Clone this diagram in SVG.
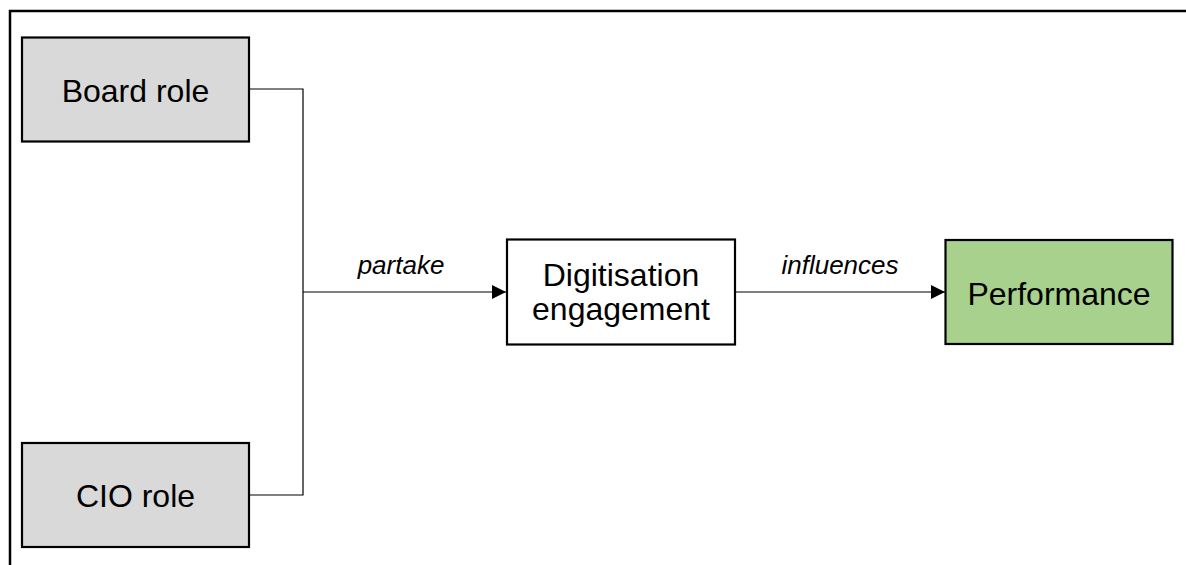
<svg xmlns="http://www.w3.org/2000/svg" width="1186" height="565" viewBox="0 0 1186 565">
  <style>
    .box { stroke: #000; stroke-width: 2.2; }
    .grey { fill: #D9D9D9; }
    .plain { fill: #FFFFFF; }
    .green { fill: #A9D18E; }
    .label { font-family: "Liberation Sans", Arial, sans-serif; font-size: 32px; fill: #000; text-anchor: middle; }
    .edge-label { font-family: "Liberation Sans", Arial, sans-serif; font-size: 26px; font-style: italic; fill: #000; text-anchor: middle; }
    .wire { fill: none; stroke: #000; stroke-width: 1.2; }
  </style>
  <defs>
    <marker id="arrow" viewBox="0 0 14 14" refX="14" refY="7" markerWidth="14" markerHeight="14" markerUnits="userSpaceOnUse" orient="auto">
      <path d="M0,0 L14,7 L0,14 Z" fill="#000"/>
    </marker>
  </defs>
  <rect width="1186" height="565" fill="#FFFFFF"/>

  <!-- outer frame -->
  <path d="M10,565 V11 H1186" fill="none" stroke="#000" stroke-width="2.5"/>

  <g id="connectors">
    <path class="wire" d="M249,89 H303 V495 H249"/>
    <path class="wire" d="M303,292 H506" marker-end="url(#arrow)"/>
    <text class="edge-label" x="401" y="274">partake</text>
    <path class="wire" d="M735,292 H945" marker-end="url(#arrow)"/>
    <text class="edge-label" x="840" y="274">influences</text>
  </g>

  <g id="board-role">
    <rect class="box grey" x="22" y="37.5" width="227" height="104"/>
    <text class="label" x="135.5" y="102">Board role</text>
  </g>

  <g id="cio-role">
    <rect class="box grey" x="22" y="443" width="227" height="104"/>
    <text class="label" x="135.5" y="507">CIO role</text>
  </g>

  <g id="digitisation-engagement">
    <rect class="box plain" x="507" y="239.5" width="228" height="105"/>
    <text class="label" x="621" y="286">Digitisation</text>
    <text class="label" x="621" y="320">engagement</text>
  </g>

  <g id="performance">
    <rect class="box green" x="945.5" y="240" width="227" height="104"/>
    <text class="label" x="1059" y="305">Performance</text>
  </g>
</svg>
